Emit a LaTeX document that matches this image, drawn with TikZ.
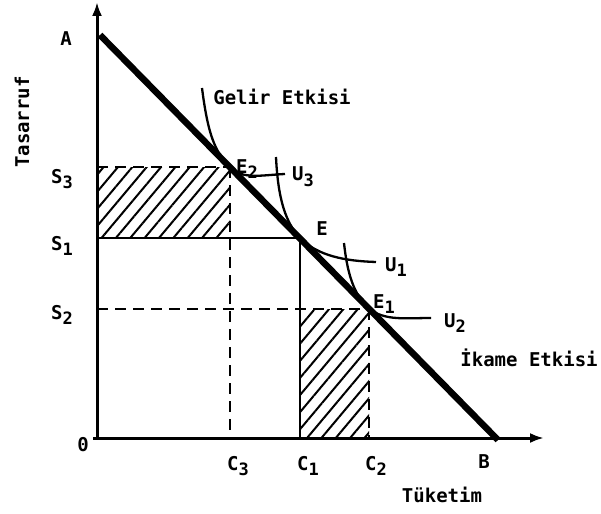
\documentclass[tikz,border=0pt]{standalone}
\usepackage{fontspec}
\setmonofont{DejaVu Sans Mono}
\usetikzlibrary{arrows.meta, patterns.meta, calc}

\newcommand{\idx}[1]{\raisebox{-0.55ex}{\fontsize{17}{17}\selectfont #1}}

\begin{document}
\begin{tikzpicture}[x=1pt, y=-1pt, >={Latex[length=14pt, width=10pt]},
    lbl/.style={font=\ttfamily\bfseries\fontsize{19}{21}\selectfont, inner sep=0pt},
    axis/.style={line width=3pt, ->},
    budget/.style={line width=6.5pt},
    icurve/.style={line width=2.3pt},
    guide/.style={line width=2.5pt},
    guidedash/.style={line width=2.5pt, dash pattern=on 11pt off 7pt},
    hatch/.style={pattern={Lines[angle=50, distance=11pt, line width=2pt]}}]

    \useasboundingbox (0,0) rectangle (601,513);

    % ================= Noktalar =================
    \coordinate (O)    at (97,438);
    \coordinate (Ytop) at (97,2);
    \coordinate (Xend) at (544,438);
    \coordinate (A)    at (100,35);
    \coordinate (B)    at (498,440);
    \coordinate (E2)   at (230,167);
    \coordinate (E)    at (300,238);
    \coordinate (E1)   at (369,309);

    % egrilerin uclari
    \coordinate (U3s) at (202,88);
    \coordinate (U3e) at (285,174);
    \coordinate (U1s) at (276,157);
    \coordinate (U1e) at (376,262);
    \coordinate (U2s) at (344,243);
    \coordinate (U2e) at (431,318);

    % ================= Taralı alanlar =================
    \pattern[hatch] (O |- E2) rectangle (E2 |- E);
    \pattern[hatch] (E |- E1) rectangle (E1 |- O);

    % ================= Yardımcı çizgiler =================
    \draw[guidedash] (O |- E2) -- (E2);
    \draw[guidedash] (E2) -- (E2 |- O);
    \draw[guide] (O |- E) -- (E) -- (E |- O);
    \draw[guidedash] (O |- E1) -- (E1);
    \draw[guidedash] (E1) -- (E1 |- O);

    % ================= Eksenler ve bütçe doğrusu =================
    \draw[axis] (O) ++(0,1) -- (Ytop);
    \draw[axis] (O) ++(-4,0) -- (Xend);
    \draw[budget] (A) -- (B);

    % ================= Kayıtsızlık eğrileri =================
    \draw[icurve] (U3s) .. controls (208,135) and (215,152) .. (E2)
                        .. controls (242,180) and (262,175) .. (U3e);
    \draw[icurve] (U1s) .. controls (278,200) and (286,223) .. (E)
                        .. controls (318,256) and (345,261) .. (U1e);
    \draw[icurve] (U2s) .. controls (348,280) and (356,296) .. (E1)
                        .. controls (386,321) and (405,318) .. (U2e);

    % ================= Etiketler =================
    \node[lbl] (lA)   at (66,39)  {A};
    \node[lbl] (lO)   at (83,445) {0};
    \node[lbl] (lB)   at (484,462) {B};
    \node[lbl, rotate=90] (lTas) at (22,122) {Tasarruf};
    \node[lbl] (lTuk) at (442,495) {Tüketim};

    \node[lbl] (lS3) at (62,179) {S\idx{3}};
    \node[lbl] (lS1) at (62,246) {S\idx{1}};
    \node[lbl] (lS2) at (62,315) {S\idx{2}};

    \node[lbl] (lC3) at (238,466) {C\idx{3}};
    \node[lbl] (lC1) at (308,466) {C\idx{1}};
    \node[lbl] (lC2) at (376,466) {C\idx{2}};

    \node[lbl] (lE2) at (247,169) {E\idx{2}};
    \node[lbl] (lE)  at (322,229) {E};
    \node[lbl] (lE1) at (384,304) {E\idx{1}};

    \node[lbl] (lU3) at (303,177) {U\idx{3}};
    \node[lbl] (lU1) at (396,267) {U\idx{1}};
    \node[lbl] (lU2) at (455,323) {U\idx{2}};

    \node[lbl] (lGelir) at (282,97)  {Gelir Etkisi};
    \node[lbl] (lIkame) at (529,358) {İkame Etkisi};

\end{tikzpicture}
\end{document}
